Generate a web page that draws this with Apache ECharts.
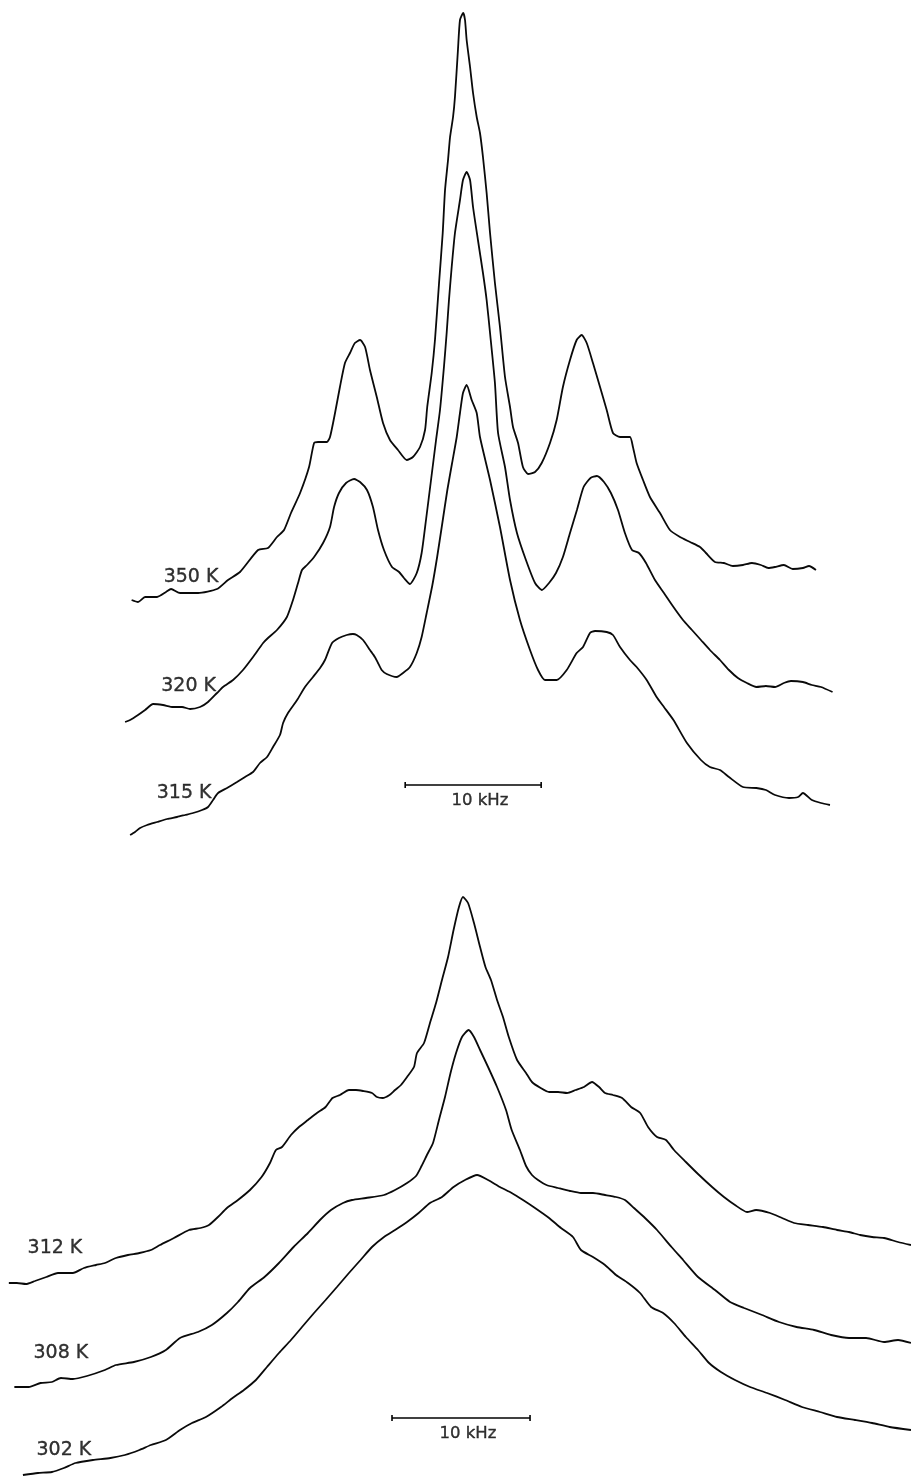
<!DOCTYPE html>
<html>
<head>
<meta charset="utf-8">
<title>NMR line shapes vs temperature</title>
<script src="https://cdn.jsdelivr.net/npm/echarts@6/dist/echarts.min.js"></script>
<style>
  html, body { margin: 0; padding: 0; background: #fff; }
  #chart { width: 911px; height: 1477px; }
</style>
</head>
<body>
<div id="chart"></div>
<script>
// ---- Spectra: [frequency offset (kHz), intensity (arbitrary units)] ----
const spec350 = [[-24.32,5],[-23.85,3],[-23.33,8],[-22.45,8],[-21.79,13],[-21.42,16],[-20.76,12],[-19.43,12],[-18.04,16],[-17.23,25],[-16.35,33],[-15.02,55],[-14.29,57],[-13.63,68],[-13.11,75],[-12.60,92],[-11.93,112],[-11.27,138],[-10.90,162],[-10.61,163],[-9.97,163],[-9.73,168],[-9.36,192],[-9.00,218],[-8.63,242],[-8.26,252],[-7.90,262],[-7.52,265],[-7.15,258],[-6.79,235],[-6.29,208],[-5.83,182],[-5.32,165],[-4.73,155],[-4.09,145],[-3.63,148],[-3.11,158],[-2.74,175],[-2.58,198],[-2.25,232],[-2.01,265],[-1.71,322],[-1.44,372],[-1.27,415],[-1.05,445],[-0.90,468],[-0.68,488],[-0.54,508],[-0.32,555],[-0.17,585],[0.07,592],[0.20,585],[0.32,565],[0.57,538],[0.79,512],[1.06,488],[1.30,472],[1.52,448],[1.79,412],[2.04,372],[2.40,322],[2.77,278],[3.14,228],[3.51,198],[3.73,178],[4.10,162],[4.46,138],[4.83,131],[5.35,133],[5.84,142],[6.45,162],[6.94,185],[7.40,218],[7.92,245],[8.41,265],[8.78,270],[9.15,262],[9.61,242],[10.13,218],[10.62,195],[11.08,172],[11.60,168],[12.33,168],[12.55,158],[12.82,142],[13.29,125],[13.80,108],[14.54,92],[15.27,75],[16.01,68],[16.75,63],[17.48,58],[17.92,52],[18.58,43],[19.24,42],[19.90,39],[20.64,40],[21.30,42],[21.96,40],[22.50,37],[22.99,38],[23.65,40],[24.30,36],[25.05,37],[25.50,39],[26.01,35]];

const spec320 = [[-24.80,0],[-24.43,2],[-23.85,7],[-23.33,12],[-22.74,18],[-22.01,17],[-21.27,15],[-20.61,15],[-20.02,13],[-19.29,15],[-18.70,20],[-18.04,29],[-17.60,35],[-16.86,42],[-16.13,52],[-15.39,65],[-14.65,79],[-14.29,84],[-13.63,92],[-12.90,105],[-12.45,122],[-12.08,139],[-11.79,152],[-11.42,157],[-10.90,165],[-10.24,179],[-9.73,195],[-9.43,215],[-9.07,229],[-8.55,239],[-7.96,243],[-7.52,240],[-7.01,232],[-6.57,215],[-6.20,192],[-5.76,172],[-5.17,155],[-4.65,150],[-4.29,144],[-3.85,138],[-3.35,149],[-2.99,169],[-2.67,202],[-2.30,242],[-1.93,282],[-1.64,312],[-1.35,355],[-1.15,389],[-0.98,422],[-0.78,455],[-0.54,489],[-0.17,522],[0.05,542],[0.32,550],[0.57,542],[0.79,515],[1.15,482],[1.52,449],[1.79,422],[2.04,389],[2.40,339],[2.63,289],[3.14,255],[3.51,222],[4.02,189],[4.68,162],[5.35,139],[5.86,132],[6.38,139],[6.89,149],[7.40,165],[7.92,189],[8.43,212],[8.92,235],[9.43,244],[9.90,246],[10.42,240],[10.93,229],[11.45,212],[11.96,189],[12.48,172],[12.99,169],[13.51,159],[14.17,142],[14.83,129],[15.53,115],[16.23,102],[16.89,92],[17.55,82],[18.21,72],[18.95,62],[19.61,52],[20.27,44],[20.93,39],[21.63,35],[22.33,36],[23.00,35],[23.65,39],[24.17,41],[25.05,40],[25.71,37],[26.38,35],[27.23,30]];

const spec315 = [[-24.43,0],[-24.07,3],[-23.70,7],[-23.18,10],[-22.45,13],[-21.71,16],[-20.98,18],[-20.39,20],[-19.80,22],[-19.14,25],[-18.70,28],[-18.33,35],[-17.96,42],[-17.30,47],[-16.57,53],[-15.98,58],[-15.39,63],[-14.88,72],[-14.36,78],[-13.92,88],[-13.41,100],[-13.18,112],[-12.82,122],[-12.15,135],[-11.57,148],[-10.98,158],[-10.46,167],[-10.10,175],[-9.58,192],[-9.07,197],[-8.50,200],[-8.04,201],[-7.77,200],[-7.30,195],[-6.79,185],[-6.43,178],[-6.20,172],[-5.93,165],[-5.56,161],[-4.82,158],[-4.36,162],[-3.85,168],[-3.35,182],[-2.99,198],[-2.62,222],[-2.20,250],[-1.85,278],[-1.49,310],[-1.10,345],[-0.75,372],[-0.41,398],[-0.17,422],[0.05,442],[0.32,450],[0.69,435],[1.06,422],[1.30,398],[2.04,355],[2.77,308],[3.51,255],[4.24,215],[4.98,185],[5.57,165],[6.08,155],[6.94,155],[7.68,165],[8.41,182],[8.88,188],[9.39,202],[9.76,204],[10.62,203],[11.08,200],[11.60,188],[12.33,175],[12.82,168],[13.56,155],[14.29,138],[14.83,128],[15.53,115],[16.52,92],[17.55,75],[18.21,68],[18.95,65],[19.61,58],[20.64,48],[21.63,47],[22.33,45],[23.00,40],[24.03,37],[24.70,38],[25.05,42],[25.71,35],[26.38,32],[27.04,30]];

const spec312 = [[-32.86,2],[-32.28,2],[-31.62,1],[-30.97,4],[-30.14,8],[-29.30,12],[-28.22,12],[-27.42,17],[-26.55,20],[-25.90,22],[-25.10,27],[-24.23,30],[-23.40,32],[-22.57,35],[-21.91,40],[-20.90,47],[-19.81,55],[-18.97,57],[-18.36,60],[-17.71,68],[-17.06,77],[-16.26,85],[-15.39,95],[-14.55,108],[-13.94,122],[-13.51,135],[-13.07,138],[-12.42,150],[-11.84,158],[-11.19,165],[-10.54,172],[-9.91,178],[-9.41,187],[-8.87,190],[-8.22,195],[-7.71,195],[-7.20,194],[-6.55,192],[-6.19,188],[-5.78,187],[-5.28,190],[-4.88,195],[-4.45,200],[-4.01,208],[-3.51,218],[-3.29,232],[-2.78,242],[-2.35,262],[-1.91,282],[-1.48,305],[-1.04,328],[-0.64,355],[-0.25,378],[0.04,388],[0.41,382],[0.84,362],[1.28,338],[1.67,318],[2.07,305],[2.51,285],[2.94,268],[3.36,248],[3.96,225],[4.61,212],[5.04,203],[5.67,197],[6.28,193],[6.93,193],[7.58,192],[8.20,195],[8.81,198],[9.39,203],[9.90,198],[10.33,192],[10.91,190],[11.57,187],[12.22,178],[12.88,172],[13.45,158],[14.10,148],[14.75,145],[15.33,135],[16.19,123],[17.07,111],[18.09,98],[18.95,88],[19.75,80],[20.62,73],[21.28,75],[22.29,72],[23.16,67],[24.03,62],[25.04,60],[26.13,58],[27.14,55],[28.01,53],[28.81,50],[29.68,48],[30.55,47],[31.56,43],[32.50,40]];

const spec308 = [[-32.46,1],[-31.41,1],[-30.56,5],[-29.74,6],[-29.09,10],[-28.22,9],[-27.20,12],[-25.90,18],[-25.10,23],[-23.80,26],[-22.57,31],[-21.48,38],[-20.46,50],[-19.16,56],[-18.15,63],[-17.06,75],[-16.26,86],[-15.39,100],[-14.34,111],[-13.29,125],[-12.23,141],[-11.19,155],[-10.32,168],[-9.52,178],[-8.65,185],[-8.00,188],[-6.99,190],[-5.68,193],[-4.88,198],[-4.01,205],[-3.36,212],[-2.96,222],[-2.57,233],[-2.13,245],[-1.70,268],[-1.26,291],[-0.86,315],[-0.46,335],[-0.03,351],[0.45,358],[0.84,351],[1.28,338],[1.86,321],[2.51,301],[3.16,278],[3.57,258],[4.17,238],[4.61,222],[5.04,213],[5.48,208],[6.09,203],[6.93,200],[7.80,197],[8.59,195],[9.46,195],[10.33,193],[11.13,191],[11.78,188],[12.43,180],[13.23,170],[14.10,158],[15.15,141],[15.99,128],[17.07,111],[18.30,98],[19.39,86],[20.41,80],[21.71,73],[22.94,66],[24.21,61],[25.48,58],[26.71,53],[28.01,50],[29.25,50],[30.55,46],[31.56,48],[32.50,45]];

const spec302 = [[-31.84,1],[-30.75,3],[-29.74,4],[-28.87,8],[-28.03,13],[-26.77,16],[-25.50,18],[-24.45,21],[-23.40,26],[-22.57,31],[-21.48,36],[-20.46,46],[-19.59,53],[-18.58,59],[-17.49,69],[-16.65,78],[-15.83,86],[-14.96,96],[-14.16,109],[-13.29,123],[-12.42,136],[-11.62,149],[-10.75,163],[-9.91,176],[-9.09,189],[-8.22,203],[-7.38,216],[-6.55,229],[-5.68,239],[-4.88,246],[-4.01,254],[-3.17,263],[-2.35,273],[-1.48,279],[-0.64,289],[0.19,296],[1.06,301],[1.86,296],[2.72,289],[3.57,283],[4.39,276],[5.26,268],[6.28,258],[7.14,248],[8.01,239],[8.59,226],[9.46,219],[10.33,211],[11.13,201],[12.00,193],[12.87,183],[13.67,169],[14.54,163],[15.33,153],[16.19,139],[17.07,126],[17.87,113],[18.73,104],[19.75,96],[20.84,89],[22.07,83],[23.38,76],[24.60,69],[25.91,64],[27.14,59],[28.45,56],[29.68,53],[30.95,49],[32.50,46]];

// Temperature labels for each trace
const tempsUpper = ['350 K', '320 K', '315 K'];
const tempsLower = ['312 K', '308 K', '302 K'];
const scaleLabel = '10 kHz';
const scaleSpan = 10; // kHz

// ---- Layout: vertical stacking offsets and label anchors (data units) ----
const offsetsUpper = [255, 138, 25];
const offsetsLower = [192, 89, 1];
const labelAnchorsUpper = [[-19.95, 283], [-20.13, 174], [-20.46, 67]];
const labelAnchorsLower = [[-29.52, 229], [-29.09, 124], [-28.87, 27]];
const barUpper = { start: -4.2, y: 75, label: [1.3, 59] };
const barLower = { start: -5.1, y: 59, label: [0.4, 43] };

const INK = '#000000';
const FONT = 'DejaVu Sans';

const chart = echarts.init(document.getElementById('chart'), null, { renderer: 'canvas' });

function trace(spec, offset, gridIdx, name) {
  return {
    type: 'line', name: name,
    xAxisIndex: gridIdx, yAxisIndex: gridIdx,
    data: spec.map(p => [p[0], p[1] + offset]),
    showSymbol: false, symbol: 'none', smooth: 0.2,
    lineStyle: { color: '#0a0a0a', width: 1.8 },
    silent: true, z: 2
  };
}

// Shared text style for the hand-lettered annotations
function textStyle(size) {
  return {
    show: true, position: 'inside', formatter: '{b}',
    color: INK, fontFamily: FONT, fontSize: size,
    textBorderColor: INK, textBorderWidth: 0.35
  };
}

function labels(names, anchors, gridIdx) {
  return {
    type: 'scatter', xAxisIndex: gridIdx, yAxisIndex: gridIdx,
    symbolSize: 0, silent: true,
    data: names.map((n, i) => ({ name: n, value: anchors[i] })),
    label: textStyle(19)
  };
}

function scaleBar(bar, gridIdx) {
  return {
    type: 'custom', xAxisIndex: gridIdx, yAxisIndex: gridIdx, silent: true,
    data: [[bar.start, bar.y, bar.start + scaleSpan]],
    renderItem: function (params, api) {
      const a = api.coord([api.value(0), api.value(1)]);
      const b = api.coord([api.value(2), api.value(1)]);
      const st = { stroke: INK, lineWidth: 1.6 };
      return {
        type: 'group',
        children: [
          { type: 'line', shape: { x1: a[0], y1: a[1], x2: b[0], y2: b[1] }, style: st },
          { type: 'line', shape: { x1: a[0], y1: a[1] - 3, x2: a[0], y2: a[1] + 3 }, style: st },
          { type: 'line', shape: { x1: b[0], y1: b[1] - 3, x2: b[0], y2: b[1] + 3 }, style: st }
        ]
      };
    }
  };
}

function scaleText(bar, gridIdx) {
  return {
    type: 'scatter', xAxisIndex: gridIdx, yAxisIndex: gridIdx,
    symbolSize: 0, silent: true,
    data: [{ name: scaleLabel, value: bar.label }],
    label: textStyle(16.5)
  };
}

chart.setOption({
  animation: false,
  backgroundColor: '#ffffff',
  grid: [
    { left: 0, right: 0, top: 0, height: 860 },
    { left: 0, right: 0, top: 870, height: 607 }
  ],
  xAxis: [
    { gridIndex: 0, type: 'value', min: -34, max: 33, show: false },
    { gridIndex: 1, type: 'value', min: -33.5, max: 32.5, show: false }
  ],
  yAxis: [
    { gridIndex: 0, type: 'value', min: 0, max: 860, show: false },
    { gridIndex: 1, type: 'value', min: 0, max: 607, show: false }
  ],
  series: [
    trace(spec350, offsetsUpper[0], 0, tempsUpper[0]),
    trace(spec320, offsetsUpper[1], 0, tempsUpper[1]),
    trace(spec315, offsetsUpper[2], 0, tempsUpper[2]),
    trace(spec312, offsetsLower[0], 1, tempsLower[0]),
    trace(spec308, offsetsLower[1], 1, tempsLower[1]),
    trace(spec302, offsetsLower[2], 1, tempsLower[2]),
    labels(tempsUpper, labelAnchorsUpper, 0),
    labels(tempsLower, labelAnchorsLower, 1),
    scaleBar(barUpper, 0),
    scaleBar(barLower, 1),
    scaleText(barUpper, 0),
    scaleText(barLower, 1)
  ]
});
</script>
</body>
</html>
